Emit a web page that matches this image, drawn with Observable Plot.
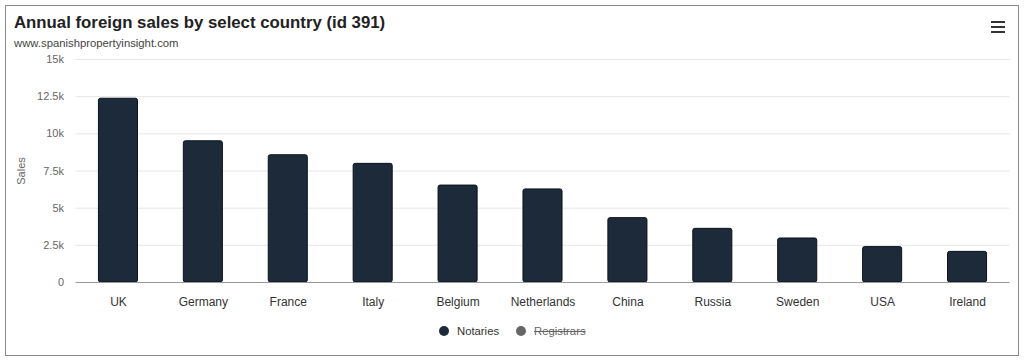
<!DOCTYPE html>
<html>
<head>
<meta charset="utf-8">
<script src="https://cdn.jsdelivr.net/npm/d3@7"></script>
<script src="https://cdn.jsdelivr.net/npm/@observablehq/plot@0.6"></script>
<style>
  html, body { margin: 0; padding: 0; background: #fff; }
  body { width: 1024px; height: 362px; position: relative; overflow: hidden; font-family: "Liberation Sans", Helvetica, Arial, sans-serif; }
  #frame { position: absolute; left: 5px; top: 5px; width: 1012px; height: 349px; border: 1px solid #8a8a8a; }
  #title { position: absolute; left: 14px; top: 13px; font-size: 16.8px; font-weight: bold; color: #222; white-space: nowrap; }
  #subtitle { position: absolute; left: 14px; top: 37px; font-size: 11.3px; color: #444; white-space: nowrap; }
  #chart { position: absolute; left: 0; top: 50px; }
  #menu { position: absolute; left: 991px; top: 21px; width: 14px; }
  #menu div { height: 2px; background: #333; margin-bottom: 3px; }
  #legend { position: absolute; top: 325px; left: 439px; font-size: 11.3px; color: #333; white-space: nowrap; }
  .item { display: inline-flex; align-items: center; margin-right: 17px; }
  .dot { width: 10px; height: 10px; border-radius: 50%; margin-right: 8px; display: inline-block; }
</style>
</head>
<body>
<div id="frame"></div>
<div id="title">Annual foreign sales by select country (id 391)</div>
<div id="subtitle">www.spanishpropertyinsight.com</div>
<div id="menu"><div></div><div></div><div></div></div>
<div id="chart"></div>
<div id="legend"></div>
<script>
const countries = ["UK", "Germany", "France", "Italy", "Belgium", "Netherlands", "China", "Russia", "Sweden", "USA", "Ireland"];
const notaries = [12360, 9500, 8560, 7980, 6520, 6260, 4330, 3610, 2960, 2380, 2060];
const yTicks = [0, 2500, 5000, 7500, 10000, 12500, 15000];
const yTickLabels = ["0", "2.5k", "5k", "7.5k", "10k", "12.5k", "15k"];
const seriesNames = ["Notaries", "Registrars"];
const seriesColors = ["#1c2a3a", "#666666"];

const data = countries.map((c, i) => ({country: c, value: notaries[i]}));

const chart = Plot.plot({
  width: 1024,
  height: 265,
  marginLeft: 75.5,
  marginRight: 14.5,
  marginTop: 9,
  marginBottom: 33,
  style: {fontFamily: '"Liberation Sans", Helvetica, Arial, sans-serif', background: "transparent"},
  x: {domain: countries, paddingInner: 0.54, paddingOuter: 0.27, round: false, label: null},
  y: {domain: [0, 15000], label: null},
  marks: [
    Plot.ruleY(yTicks.slice(1), {stroke: "#e6e6e6", strokeWidth: 1}),
    Plot.barY(data, {x: "country", y: "value", fill: seriesColors[0], stroke: "#0b131d", strokeWidth: 1, rx: 2}),
    Plot.ruleY([0], {stroke: "#999", strokeWidth: 1}),
    Plot.axisY({ticks: yTicks, tickFormat: (d) => yTickLabels[yTicks.indexOf(d)], tickSize: 0, tickPadding: 12, fontSize: 11, fill: "#666", label: "Sales", labelAnchor: "center", labelArrow: "none", labelOffset: 59}),
    Plot.axisX({tickSize: 0, tickPadding: 15, fontSize: 12, fill: "#333", label: null})
  ]
});
document.getElementById("chart").appendChild(chart);

const legend = document.getElementById("legend");
seriesNames.forEach((name, i) => {
  const item = document.createElement("span");
  item.className = "item";
  const dot = document.createElement("span");
  dot.className = "dot";
  dot.style.background = seriesColors[i];
  const label = document.createElement("span");
  label.textContent = name;
  if (i === 1) { label.style.textDecoration = "line-through"; label.style.color = "#666"; }
  item.appendChild(dot);
  item.appendChild(label);
  legend.appendChild(item);
});
</script>
</body>
</html>
